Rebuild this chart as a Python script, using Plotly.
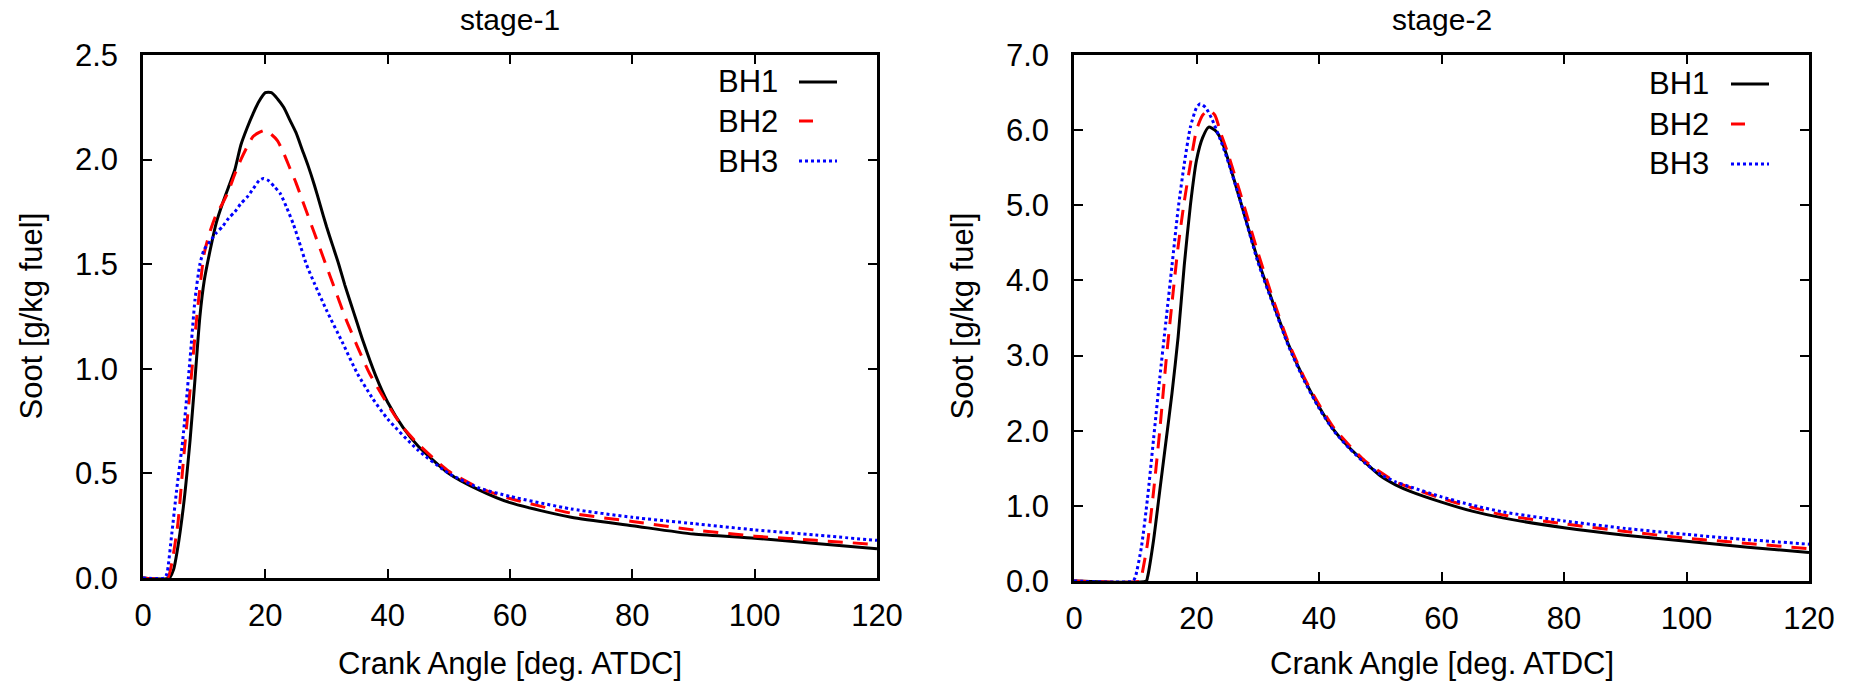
import plotly.graph_objects as go

W, H = 1854, 684

# ---------------- data: stage-1 ----------------
s1_bh1_x = [0, 4.3, 5, 5.6, 6.6, 7.7, 8.5, 9.3, 10, 11, 12, 13, 14, 15, 16, 17, 18, 19, 20, 21, 22, 23, 24, 25, 26, 27, 28, 29, 30, 31, 32, 33, 34, 35, 36, 38, 40, 42.5, 45, 50, 55, 60, 70, 80, 90, 100, 110, 120]
s1_bh1_y = [0, 0, 0.04, 0.13, 0.34, 0.66, 0.95, 1.25, 1.42, 1.57, 1.70, 1.79, 1.87, 1.95, 2.07, 2.15, 2.22, 2.28, 2.32, 2.32, 2.29, 2.25, 2.19, 2.13, 2.05, 1.97, 1.88, 1.78, 1.68, 1.59, 1.50, 1.40, 1.31, 1.22, 1.13, 0.97, 0.84, 0.72, 0.63, 0.50, 0.42, 0.36, 0.29, 0.25, 0.21, 0.19, 0.165, 0.14]

s1_bh2_x = [0, 4.0, 4.7, 5.7, 6.6, 7.7, 8.8, 10, 11, 12, 13, 14, 15, 16, 17, 18, 19, 20, 21, 22, 23, 24, 25, 26, 27, 28, 29, 30, 31, 32, 33, 34, 35, 37, 40, 42.5, 45, 50, 55, 60, 70, 80, 90, 100, 110, 120]
s1_bh2_y = [0, 0, 0.07, 0.26, 0.56, 0.90, 1.25, 1.55, 1.66, 1.74, 1.79, 1.85, 1.93, 2.00, 2.06, 2.11, 2.13, 2.14, 2.12, 2.09, 2.03, 1.96, 1.89, 1.81, 1.73, 1.65, 1.57, 1.49, 1.41, 1.33, 1.25, 1.18, 1.11, 0.98, 0.83, 0.72, 0.64, 0.51, 0.43, 0.38, 0.31, 0.27, 0.23, 0.20, 0.18, 0.16]

s1_bh3_x = [0, 3.5, 3.9, 4.7, 5.5, 6.5, 7.7, 8.5, 9.3, 10, 11, 12, 13, 14, 15, 16, 17, 18, 19, 19.7, 20.5, 21.5, 22.4, 23.5, 24.6, 25.5, 26.7, 28, 30, 32.7, 35, 37.5, 40, 45, 50, 55, 60, 70, 80, 90, 100, 110, 120]
s1_bh3_y = [0, 0, 0.02, 0.21, 0.42, 0.66, 1.05, 1.33, 1.50, 1.57, 1.61, 1.65, 1.68, 1.72, 1.75, 1.79, 1.82, 1.86, 1.90, 1.91, 1.90, 1.87, 1.84, 1.77, 1.69, 1.61, 1.50, 1.41, 1.28, 1.12, 0.98, 0.86, 0.76, 0.61, 0.50, 0.43, 0.39, 0.33, 0.29, 0.26, 0.23, 0.205, 0.18]

# ---------------- data: stage-2 ----------------
s2_bh1_x = [0, 11.8, 12, 13, 14, 15, 16, 17, 18, 19, 20, 21, 22, 23, 24, 25, 27, 30, 32.5, 35, 37.5, 40, 42.5, 45, 47.5, 50, 52.5, 55, 60, 65, 70, 80, 90, 100, 110, 120]
s2_bh1_y = [0, 0, 0.05, 0.55, 1.2, 1.85, 2.5, 3.25, 4.2, 5.0, 5.6, 5.9, 6.04, 6.0, 5.88, 5.65, 5.1, 4.28, 3.70, 3.15, 2.70, 2.32, 2.00, 1.77, 1.58, 1.40, 1.28, 1.19, 1.05, 0.93, 0.84, 0.71, 0.61, 0.53, 0.45, 0.38]

s2_bh2_x = [0, 10.8, 11, 12, 13, 14, 15, 16, 17, 18, 19, 20, 21, 22, 23, 24, 25, 27, 30, 32.5, 35, 37.5, 40, 42.5, 45, 47.5, 50, 52.5, 55, 60, 65, 70, 80, 90, 100, 110, 120]
s2_bh2_y = [0, 0, 0.05, 0.5, 1.2, 2.0, 2.9, 3.7, 4.45, 5.05, 5.55, 6.0, 6.2, 6.27, 6.2, 5.95, 5.72, 5.2, 4.38, 3.75, 3.18, 2.72, 2.35, 2.03, 1.80, 1.60, 1.45, 1.32, 1.24, 1.10, 0.98, 0.88, 0.76, 0.66, 0.57, 0.50, 0.43]

s2_bh3_x = [0, 9.6, 10, 11, 12, 13, 14, 15, 16, 17, 18, 19, 20, 20.6, 21.5, 22.5, 24, 25, 27, 30, 32.5, 35, 37.5, 40, 42.5, 45, 47.5, 50, 52.5, 55, 60, 65, 70, 80, 90, 100, 110, 120]
s2_bh3_y = [0, 0, 0.05, 0.45, 1.1, 1.9, 2.7, 3.45, 4.2, 4.95, 5.55, 6.04, 6.3, 6.35, 6.3, 6.15, 5.85, 5.62, 5.1, 4.25, 3.68, 3.13, 2.68, 2.30, 1.99, 1.76, 1.57, 1.42, 1.32, 1.25, 1.12, 1.01, 0.92, 0.80, 0.70, 0.62, 0.55, 0.49]

series_names = ["BH1", "BH2", "BH3"]
x_ticks = [0, 20, 40, 60, 80, 100, 120]
y1_ticks = [0.0, 0.5, 1.0, 1.5, 2.0, 2.5]
y2_ticks = [0.0, 1.0, 2.0, 3.0, 4.0, 5.0, 6.0, 7.0]

# ---------------- styling ----------------
FONT = "Liberation Sans, Arial, sans-serif"
FS = 31
styles = [
    dict(color="#000000", width=3, dash="solid"),
    dict(color="#ff0000", width=3, dash="15px,10px"),
    dict(color="#0000ff", width=3, dash="3px,3px"),
]

def px(x):
    return x / W

def py(y):
    return 1 - y / H

fig = go.Figure()

stage1 = [(s1_bh1_x, s1_bh1_y), (s1_bh2_x, s1_bh2_y), (s1_bh3_x, s1_bh3_y)]
stage2 = [(s2_bh1_x, s2_bh1_y), (s2_bh2_x, s2_bh2_y), (s2_bh3_x, s2_bh3_y)]

for (xs, ys), name, st in zip(stage1, series_names, styles):
    fig.add_trace(go.Scatter(x=xs, y=ys, mode="lines", name=name, line=dict(shape="spline", smoothing=0.6, **st),
                             xaxis="x", yaxis="y", showlegend=False))
for (xs, ys), name, st in zip(stage2, series_names, styles):
    fig.add_trace(go.Scatter(x=xs, y=ys, mode="lines", name=name, line=dict(shape="spline", smoothing=0.6, **st),
                             xaxis="x2", yaxis="y2", showlegend=False))

axis_common = dict(
    showline=True, linecolor="black", linewidth=2.5, mirror="allticks",
    ticks="inside", ticklen=9, tickwidth=2, tickcolor="black",
    showgrid=False, zeroline=False,
    tickfont=dict(family=FONT, size=FS, color="black"),
)

L1, R1 = 143, 877
L2, R2 = 1074, 1809
TOP = 55
B1, B2 = 578, 581

fig.update_layout(
    width=W, height=H,
    margin=dict(l=0, r=0, t=0, b=0, autoexpand=False),
    paper_bgcolor="white", plot_bgcolor="white",
    font=dict(family=FONT, size=FS, color="black"),
    showlegend=False,
    xaxis=dict(domain=[px(L1), px(R1)], range=[0, 120], tickvals=x_ticks, anchor="y",
               ticklabelstandoff=8, **axis_common),
    yaxis=dict(domain=[py(B1), py(TOP)], range=[0, 2.5], tickvals=y1_ticks, tickformat=".1f", anchor="x",
               ticklabelstandoff=16, **axis_common),
    xaxis2=dict(domain=[px(L2), px(R2)], range=[0, 120], tickvals=x_ticks, anchor="y2",
                ticklabelstandoff=8, **axis_common),
    yaxis2=dict(domain=[py(B2), py(TOP)], range=[0, 7], tickvals=y2_ticks, tickformat=".1f", anchor="x2",
                ticklabelstandoff=16, **axis_common),
)

ann = []
# titles
ann.append(dict(text="stage-1", x=px((L1 + R1) / 2), y=py(20), xref="paper", yref="paper",
                showarrow=False, xanchor="center", yanchor="middle", font=dict(size=30)))
ann.append(dict(text="stage-2", x=px((L2 + R2) / 2), y=py(20), xref="paper", yref="paper",
                showarrow=False, xanchor="center", yanchor="middle", font=dict(size=30)))
# axis titles
for cx, (l, r) in [(31, (L1, R1)), (962, (L2, R2))]:
    ann.append(dict(text="Soot [g/kg fuel]", x=px(cx), y=py((TOP + B1) / 2), xref="paper", yref="paper",
                    showarrow=False, textangle=-90, xanchor="center", yanchor="middle", font=dict(size=FS)))
    ann.append(dict(text="Crank Angle [deg. ATDC]", x=px((l + r) / 2), y=py(663), xref="paper", yref="paper",
                    showarrow=False, xanchor="center", yanchor="middle", font=dict(size=FS)))

# custom legends (text left, sample right, gnuplot style)
shapes = []
for tx, sx0, sx1, ys in [(716, 799, 837, [82, 121, 161]), (1647, 1731, 1769, [84, 124, 164])]:
    for i, (name, st) in enumerate(zip(series_names, styles)):
        ann.append(dict(text=name, x=px(tx), y=py(ys[i]), xref="paper", yref="paper", showarrow=False,
                        xanchor="left", yanchor="middle", font=dict(size=FS)))
        x1 = sx1 if i != 1 else sx0 + 14
        shapes.append(dict(type="line", xref="paper", yref="paper", x0=px(sx0), x1=px(x1),
                           y0=py(ys[i]), y1=py(ys[i]),
                           line=dict(color=st["color"], width=3, dash="solid" if i != 2 else "3px,3px")))

fig.update_layout(annotations=ann, shapes=shapes)
fig.write_html("out.html",
               post_script="document.body.style.margin='0';document.body.style.padding='0';document.body.style.overflow='hidden';")
